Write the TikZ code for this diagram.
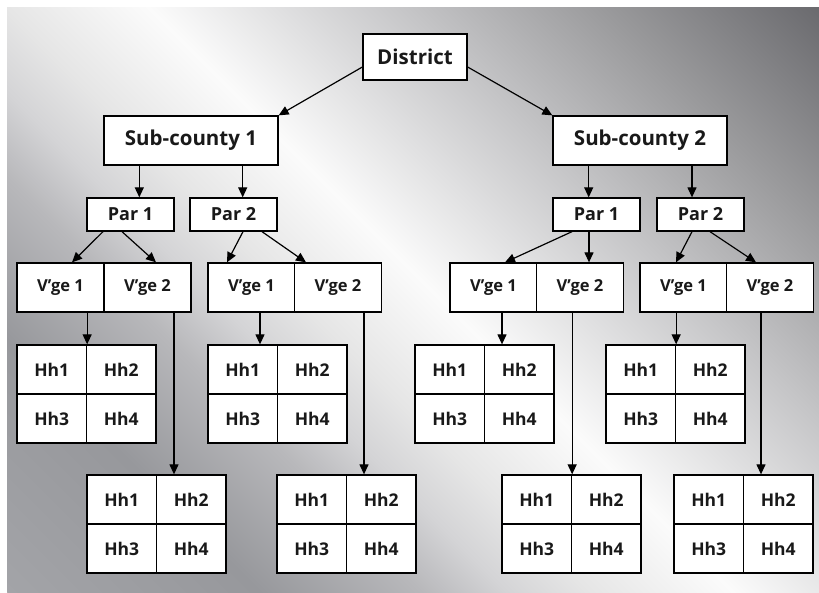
\documentclass[tikz,border=0pt]{standalone}
\usepackage{fontspec}
\setmainfont{Open Sans}
\usetikzlibrary{arrows.meta}
\definecolor{g0}{HTML}{A3A4A8}
\definecolor{g1}{HTML}{97989C}
\definecolor{g2}{HTML}{B8B8BB}
\definecolor{g3}{HTML}{D4D4D6}
\definecolor{g4}{HTML}{E6E6E6}
\definecolor{g5}{HTML}{FBFBFB}
\definecolor{g6}{HTML}{C6C6C8}
\definecolor{g7}{HTML}{9A9A9C}
\definecolor{g8}{HTML}{6A6A6E}
\pgfdeclarehorizontalshading{chrome}{100bp}{color(0bp)=(g0); color(25bp)=(g0); color(34.06bp)=(g1); color(39.88bp)=(g2); color(42.91bp)=(g3); color(45.95bp)=(g4); color(51.01bp)=(g5); color(60.02bp)=(g6); color(67.21bp)=(g7); color(75bp)=(g8); color(100bp)=(g8)}
\newcommand\hhgrid[3]{%
  \node[cell] (#1-1) at ({#2+34.75},{#3+24.5}) {Hh1};
  \node[cell] (#1-2) at ({#2+104.25},{#3+24.5}) {Hh2};
  \node[cell] (#1-3) at ({#2+34.75},{#3+73.5}) {Hh3};
  \node[cell] (#1-4) at ({#2+104.25},{#3+73.5}) {Hh4};}
\begin{document}
\begin{tikzpicture}[x=1pt,y=-1pt,
  box/.style={draw=black, fill=white, line width=1.3pt, inner sep=0pt, text=black!90},
  topbox/.style={box, minimum height=49, font=\bfseries\fontsize{20.5}{23}\selectfont},
  parbox/.style={box, minimum width=87, minimum height=33, font=\bfseries\fontsize{18}{21}\selectfont},
  vgebox/.style={box, minimum width=87, minimum height=49, font=\bfseries\fontsize{16.5}{20}\selectfont},
  cell/.style={box, minimum width=69.5, minimum height=49, font=\bfseries\fontsize{17.5}{20}\selectfont},
  arr/.style={line width=1.2pt, -{Triangle[length=10pt,width=9pt]}}]
\useasboundingbox (0,0) rectangle (819,592);
\fill[white] (0,0) rectangle (819,592);
\begin{scope}
\clip (7,7) rectangle (819,592);
\begin{scope}[transform canvas={rotate=45}]
\shade[shading=chrome] (-414pt,-1050pt) rectangle (574pt,50pt);
\end{scope}
\end{scope}
% top
\node[topbox, minimum width=104, minimum height=46] (dist) at (415,57) {District};
\node[topbox, minimum width=174] (s1) at (191,140.5) {Sub-county 1};
\node[topbox, minimum width=174] (s2) at (640,140.5) {Sub-county 2};
% parishes
\node[parbox] (p1L) at (130.5,214.5) {Par 1};
\node[parbox] (p2L) at (233.5,214.5) {Par 2};
\node[parbox] (p1R) at (596.5,214.5) {Par 1};
\node[parbox] (p2R) at (700.5,214.5) {Par 2};
% villages
\node[vgebox] (vA1) at (60.5,287.5) {V’ge 1};
\node[vgebox] (vA2) at (147.5,287.5) {V’ge 2};
\node[vgebox] (vB1) at (251.5,287.5) {V’ge 1};
\node[vgebox] (vB2) at (338,287.5) {V’ge 2};
\node[vgebox] (vC1) at (493.5,287.5) {V’ge 1};
\node[vgebox] (vC2) at (580,287.5) {\raisebox{3pt}{V’ge 2}};
\node[vgebox] (vD1) at (683.5,287.5) {V’ge 1};
\node[vgebox] (vD2) at (770,287.5) {V’ge 2};
% households
\hhgrid{ga}{17}{345}
\hhgrid{gb}{87}{475}
\hhgrid{gc}{208}{345}
\hhgrid{gd}{277}{475}
\hhgrid{ge}{415}{345}
\hhgrid{gf}{502}{475}
\hhgrid{gg}{606}{345}
\hhgrid{gh}{674}{475}
% district to sub-counties
\draw[arr] ([yshift=-10pt]dist.west) -- (s1.north east);
\draw[arr] ([yshift=-10pt]dist.east) -- (s2.north west);
% sub-counties to parishes
\coordinate (a1) at ([xshift=8.8pt]p1L.north);
\coordinate (a2) at ([xshift=9.2pt]p2L.north);
\coordinate (a3) at ([xshift=-7.8pt]p1R.north);
\coordinate (a4) at ([xshift=-8.5pt]p2R.north);
\draw[arr] (a1 |- s1.south) -- (a1);
\draw[arr] (a2 |- s1.south) -- (a2);
\draw[arr] (a3 |- s2.south) -- (a3);
\draw[arr] (a4 |- s2.south) -- (a4);
% parishes to villages
\draw[arr] ([xshift=-27.5pt]p1L.south) -- ([xshift=11.5pt]vA1.north);
\draw[arr] ([xshift=-8.5pt]p1L.south) -- ([xshift=8.5pt]vA2.north);
\draw[arr] ([xshift=9.5pt]p2L.south) -- ([xshift=-24.5pt]vB1.north);
\draw[arr] ([xshift=28.5pt]p2L.south) -- ([xshift=-32pt]vB2.north);
\draw[arr] ([xshift=-24.5pt]p1R.south) -- ([xshift=11.5pt]vC1.north);
\coordinate (b1) at ([xshift=-7.5pt]p1R.south);
\draw[arr] (b1) -- (b1 |- vC2.north);
\draw[arr] ([xshift=-8.5pt]p2R.south) -- ([xshift=-7.5pt]vD1.north);
\draw[arr] ([xshift=9.5pt]p2R.south) -- ([xshift=-14pt]vD2.north);
% villages to households
\draw[arr] (vA1.south -| ga-1.north east) -- (ga-1.north east);
\coordinate (c2) at ([xshift=26.5pt]vA2.south);
\draw[arr] (c2) -- (c2 |- gb-2.north);
\coordinate (c3) at ([xshift=8.5pt]vB1.south);
\draw[arr] (c3) -- (c3 |- gc-1.north);
\coordinate (c4) at ([xshift=26pt]vB2.south);
\draw[arr] (c4) -- (c4 |- gd-2.north);
\coordinate (c5) at ([xshift=8.5pt]vC1.south);
\draw[arr] (c5) -- (c5 |- ge-2.north);
\draw[arr] (vC2.south -| gf-1.north east) -- (gf-1.north east);
\draw[arr] (vD1.south -| gg-1.north east) -- (gg-1.north east);
\coordinate (c8) at ([xshift=-9pt]vD2.south);
\draw[arr] (c8) -- (c8 |- gh-2.north);
\end{tikzpicture}
\end{document}
